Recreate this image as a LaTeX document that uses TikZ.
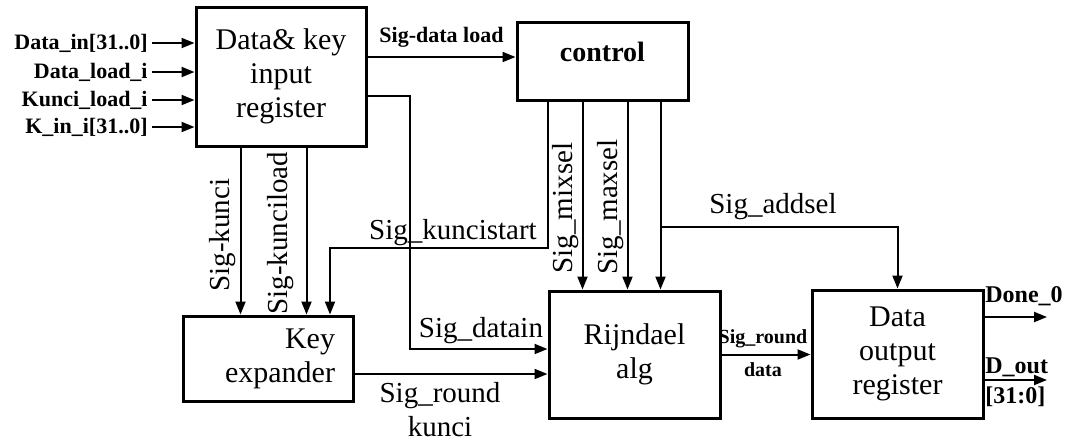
\documentclass[tikz,border=0pt]{standalone}
\usepackage{fontspec}
\setmainfont{Liberation Serif}
\usetikzlibrary{arrows.meta}

\begin{document}
\begin{tikzpicture}[x=0.5pt,y=-0.5pt]
\tikzstyle{every node}+=[inner sep=0pt]
\tikzstyle{blk}=[draw, line width=1.5pt, align=center, font=\fontsize{15}{17}\selectfont]
\tikzstyle{sig}=[line width=1pt, -{Triangle[length=6.5pt,width=5pt]}]
\tikzstyle{lbl}=[font=\fontsize{14.5}{17}\selectfont]
\tikzstyle{pin}=[font=\bfseries\fontsize{11}{15}\selectfont]
\tikzstyle{outpin}=[font=\bfseries\fontsize{12}{15}\selectfont]
\useasboundingbox (0,0) rectangle (1066,441);
\node [blk, minimum width=85pt, minimum height=69.5pt] (inreg) at (281,76.5) {Data\& key\\input\\register};
\node [blk, minimum width=85.5pt, minimum height=39pt, text depth=9pt, font=\bfseries\fontsize{14}{17}\selectfont] (control) at (602.5,61) {control};
\node [blk, minimum width=85pt, minimum height=42.5pt, text width=67pt, align=right] (keyexp) at (268,358.5) {Key\\expander};
\node [blk, minimum width=85.5pt, minimum height=63.5pt] (rijn) at (634.5,354.5) {Rijndael\\alg};
\node [blk, minimum width=85.5pt, minimum height=64pt] (outreg) at (897.5,354) {Data\\output\\register};
\node [pin, anchor=east, inner xsep=2pt] (lDin) at (152,43) {Data\_in[31..0]};
\node [pin, anchor=east, inner xsep=2pt] (lDload) at (152,72) {Data\_load\_i};
\node [pin, anchor=east, inner xsep=2pt] (lKload) at (152,100) {Kunci\_load\_i};
\node [pin, anchor=east, inner xsep=2pt] (lKin) at (152,127) {K\_in\_i[31..0]};
\draw [sig] (lDin.east) -- (lDin.east -| inreg.west);
\draw [sig] (lDload.east) -- (lDload.east -| inreg.west);
\draw [sig] (lKload.east) -- (lKload.east -| inreg.west);
\draw [sig] (lKin.east) -- (lKin.east -| inreg.west);
\draw [sig] ([yshift=2pt]control.west -| inreg.east) -- ([yshift=2pt]control.west) node [pin, midway, yshift=10pt] {Sig-data load};
\coordinate (kc) at ([xshift=23pt]inreg.south west);
\coordinate (kl) at ([xshift=56pt]inreg.south west);
\coordinate (ks) at ([xshift=16pt]control.south west);
\coordinate (mx) at ([xshift=33.5pt]control.south west);
\coordinate (ax) at ([xshift=56pt]control.south west);
\coordinate (ad) at ([xshift=72.5pt]control.south west);
\coordinate (kbend) at (330,248);
\coordinate (dbend) at (410,349);
\coordinate (aj) at (662,227);
\coordinate (dn) at (1047,317);
\coordinate (dq) at (1047,380);
\draw [sig] (kc) -- (kc |- keyexp.north);
\draw [sig] (kl) -- (kl |- keyexp.north);
\draw [sig] (ks) |- (kbend) -- (kbend |- keyexp.north);
\draw [sig] ([yshift=-9.75pt]inreg.east) -| (dbend) -- (dbend -| rijn.west);
\draw [sig] (mx) -- (mx |- rijn.north);
\draw [sig] (ax) -- (ax |- rijn.north);
\draw [sig] (ad) -- (ad |- rijn.north);
\draw [sig] (aj) -| (outreg.north);
\draw [sig] ([yshift=-7.75pt]keyexp.east) -- ([yshift=-7.75pt]keyexp.east -| rijn.west);
\draw [sig] (rijn.east) -- (rijn.east -| outreg.west);
\draw [sig] (dn -| outreg.east) -- (dn);
\draw [sig] (dq -| outreg.east) -- (dq);
\node [lbl, rotate=90] (tKunci) at (223,235) {Sig-kunci};
\node [lbl, rotate=90] (tKload) at (281,233) {Sig-kunciload};
\node [lbl, rotate=90] (tMix) at (566,208) {Sig\_mixsel};
\node [lbl, rotate=90] (tMax) at (611,207) {Sig\_maxsel};
\node [lbl] (tKstart) at (453,233) {Sig\_kuncistart};
\node [lbl] (tDatain) at (481,331) {Sig\_datain};
\node [lbl] (tAdd) at (773,207) {Sig\_addsel};
\node [lbl, align=center] (tRk) at (440,410) {Sig\_round\\kunci};
\node [font=\bfseries\fontsize{10}{16.5}\selectfont, align=center] (tRd) at (763,353) {Sig\_round\\data};
\node [outpin, anchor=west] (tDone) at (985,296) {Done\_0};
\node [outpin, anchor=west, align=left] (tDout) at (985,382) {D\_out\\{[}31:0{]}};
\end{tikzpicture}
\end{document}
